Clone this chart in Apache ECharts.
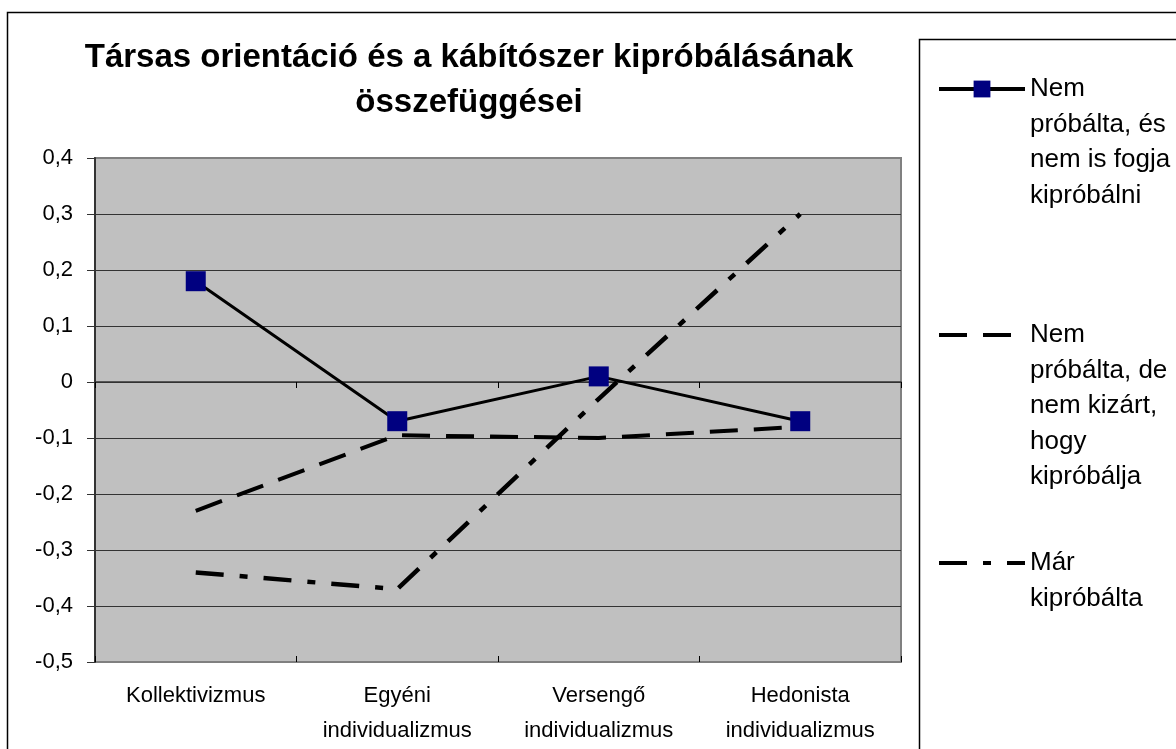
<!DOCTYPE html>
<html>
<head>
<meta charset="utf-8">
<script src="https://cdn.jsdelivr.net/npm/echarts@6/dist/echarts.min.js"></script>
<style>
  html, body { margin: 0; padding: 0; background: #fff; }
  #chart { width: 1176px; height: 749px; }
</style>
</head>
<body>
<div id="chart"></div>
<script>
// categories on the x axis
const categories = ['Kollektivizmus', 'Egyéni\nindividualizmus', 'Versengő\nindividualizmus', 'Hedonista\nindividualizmus']
// series names (legend text, with the same line breaks as the picture)
const seriesNames = [
  'Nem\npróbálta, és\nnem is fogja\nkipróbálni',
  'Nem\npróbálta, de\nnem kizárt,\nhogy\nkipróbálja',
  'Már\nkipróbálta'
]
// values
const neverTried = [0.18, -0.07, 0.01, -0.07]
const mightTry = [-0.23, -0.095, -0.10, -0.08]
const alreadyTried = [-0.34, -0.37, -0.03, 0.30]

const FONT = '"Liberation Sans", Arial, sans-serif'
const LEGEND_LH = 35.5

// one legend per series; blank lines before the text push its first line onto the icon
// (the legend text block is centred on the icon)
function legendFor(name, iconY, hideSymbol) {
  const lines = name.split('\n').length
  return {
    data: [name],
    left: 937,
    top: iconY - (2 * lines - 1) * LEGEND_LH / 2,
    orient: 'vertical',
    padding: 0,
    itemWidth: 86,
    itemHeight: 21,
    selectedMode: false,
    formatter: (n) => '\u00a0\n'.repeat(lines - 1) + n,
    itemStyle: hideSymbol ? { opacity: 0 } : {},
    lineStyle: { width: 4 },
    textStyle: {
      fontFamily: FONT,
      fontSize: 26,
      color: '#000',
      lineHeight: LEGEND_LH
    }
  }
}

// grid lines: plot border colour at the two ends, dark in between
const splitColors = ['#808080', '#333', '#333', '#333', '#333', '#333', '#333', '#333', '#333', '#808080']

const chart = echarts.init(document.getElementById('chart'))

chart.setOption({
  animation: false,
  title: {
    text: 'Társas orientáció és a kábítószer kipróbálásának\nösszefüggései',
    left: 469,
    top: 35,
    padding: 0,
    textAlign: 'center',
    textStyle: {
      fontFamily: FONT,
      fontSize: 33,
      fontWeight: 'bold',
      lineHeight: 45,
      color: '#000'
    }
  },
  graphic: [
    {
      type: 'rect',
      silent: true,
      z: -10,
      shape: { x: 7.5, y: 12.5, width: 1300, height: 900 },
      style: { fill: 'none', stroke: '#000', lineWidth: 1.5 }
    },
    {
      type: 'rect',
      silent: true,
      z: -10,
      shape: { x: 919.5, y: 39.5, width: 400, height: 900 },
      style: { fill: 'none', stroke: '#000', lineWidth: 1.5 }
    }
  ],
  legend: [
    legendFor(seriesNames[0], 89, false),
    legendFor(seriesNames[1], 335, true),
    legendFor(seriesNames[2], 563, true)
  ],
  grid: {
    left: 95,
    right: 275,
    top: 158,
    bottom: 87,
    show: true,
    backgroundColor: '#C0C0C0',
    borderColor: '#808080',
    borderWidth: 2
  },
  xAxis: [
    {
      // labels along the bottom
      type: 'category',
      data: categories,
      position: 'bottom',
      axisLine: { show: false, onZero: false },
      axisTick: { show: false },
      axisLabel: {
        interval: 0,
        margin: 16,
        fontFamily: FONT,
        fontSize: 22,
        lineHeight: 35,
        color: '#000'
      }
    },
    {
      // axis line on zero, ticks below
      type: 'category',
      data: categories,
      position: 'bottom',
      axisLine: { show: true, onZero: true, lineStyle: { color: '#333', width: 1.5 } },
      axisTick: { show: true, length: 6, lineStyle: { color: '#000', width: 1 } },
      axisLabel: { show: false }
    },
    {
      // ticks above the zero line
      type: 'category',
      data: categories,
      position: 'bottom',
      axisLine: { show: false, onZero: true },
      axisTick: { show: true, inside: true, length: 6, lineStyle: { color: '#000', width: 1 } },
      axisLabel: { show: false }
    }
  ],
  yAxis: {
    type: 'value',
    min: -0.5,
    max: 0.4,
    interval: 0.1,
    axisLine: { show: true, lineStyle: { color: '#333', width: 2 } },
    axisTick: { show: true, length: 8, lineStyle: { color: '#333', width: 1 } },
    axisLabel: {
      margin: 22,
      fontFamily: FONT,
      fontSize: 22,
      color: '#000',
      formatter: (v) => Math.abs(v) < 1e-9 ? '0' : v.toFixed(1).replace('.', ',')
    },
    splitLine: { show: true, lineStyle: { color: splitColors, width: 1 } }
  },
  series: [
    {
      name: seriesNames[0],
      type: 'line',
      data: neverTried,
      symbol: 'rect',
      symbolSize: 20,
      itemStyle: { color: '#000080' },
      lineStyle: { color: '#000', width: 3, type: 'solid' }
    },
    {
      name: seriesNames[1],
      type: 'line',
      data: mightTry,
      symbol: 'none',
      itemStyle: { color: '#000' },
      lineStyle: { color: '#000', width: 4, type: [28, 16] }
    },
    {
      name: seriesNames[2],
      type: 'line',
      data: alreadyTried,
      symbol: 'none',
      itemStyle: { color: '#000' },
      lineStyle: { color: '#000', width: 4.5, type: [28, 16, 8, 16] }
    }
  ]
})
</script>
</body>
</html>
